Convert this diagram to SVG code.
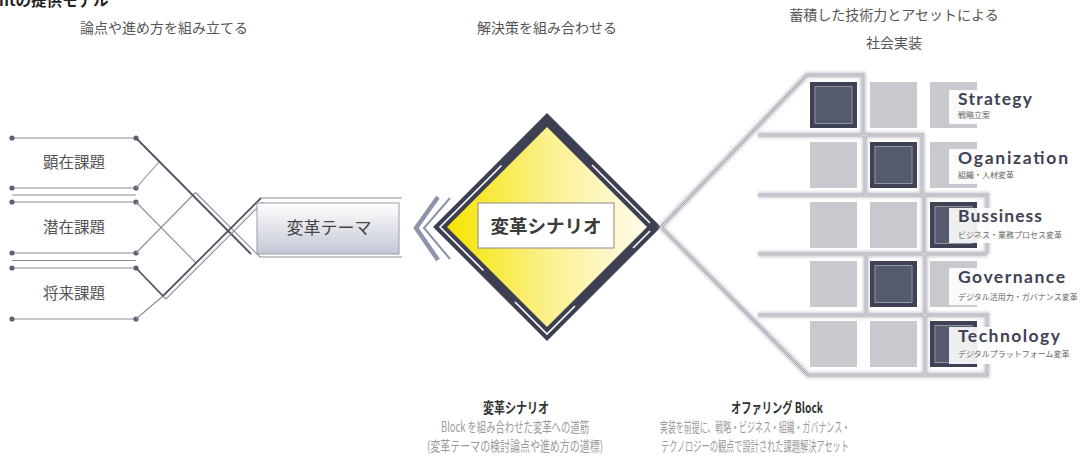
<svg xmlns="http://www.w3.org/2000/svg" width="1081" height="456" viewBox="0 0 1081 456">
<defs>
<style>
.jp{font-family:"Noto Sans CJK JP","Noto Sans",sans-serif}
.hd{font-size:14px;fill:#555;text-anchor:middle}
.lbl{font-size:15.5px;fill:#555;text-anchor:middle}
.ln{stroke:#8a8d99;stroke-width:1.1;fill:none}
.thk{stroke:#4f5363;stroke-width:1.8;fill:none}
.dot{fill:#5d6172}
.sq{fill:#c8c9ce}
.dk{fill:#3f4254}
.dki{fill:#555a6c;stroke:#9095a5;stroke-width:1}
.pan{fill:#fff;fill-opacity:.9}
.en{font-family:Lato,"Liberation Sans",sans-serif;font-weight:bold;font-size:17.5px;fill:#3f4254}
.sub{font-family:"Noto Sans CJK JP",sans-serif;font-size:8px;fill:#666}
.bt{font-size:14.5px;fill:#333;text-anchor:middle;font-weight:bold}
.bd{font-size:14px;fill:#9a9a9a;text-anchor:middle}
</style>
<linearGradient id="gBox" x1="0" y1="0" x2="0" y2="1">
<stop offset="0" stop-color="#ffffff"/>
<stop offset="1" stop-color="#c3c6d3"/>
</linearGradient>
<linearGradient id="gY" x1="0" y1="0" x2="1" y2="0">
<stop offset="0" stop-color="#f6e400"/>
<stop offset="0.5" stop-color="#fbf08c"/>
<stop offset="1" stop-color="#fffcec"/>
</linearGradient>
<filter id="blur" x="-5%" y="-5%" width="110%" height="110%">
<feGaussianBlur stdDeviation="1.6"/>
</filter>
</defs>
<rect width="1081" height="456" fill="#fff"/>

<g id="headers" class="jp">
<text x="-1" y="6" font-size="15.5" font-weight="bold" fill="#222">ntの提供モデル</text>
<text class="hd" x="164" y="33">論点や進め方を組み立てる</text>
<text class="hd" x="547" y="33">解決策を組み合わせる</text>
<text class="hd" x="894" y="20">蓄積した技術力とアセットによる</text>
<text class="hd" x="894" y="48">社会実装</text>
</g>

<g id="issues">
<g class="ln">
<line x1="12" y1="138" x2="136" y2="138"/>
<line x1="12" y1="188" x2="136" y2="188"/>
<line x1="12" y1="195" x2="136" y2="195"/>
<line x1="12" y1="202" x2="136" y2="202"/>
<line x1="12" y1="253" x2="136" y2="253"/>
<line x1="12" y1="260.5" x2="136" y2="260.5"/>
<line x1="12" y1="268" x2="136" y2="268"/>
<line x1="12" y1="319" x2="136" y2="319"/>
</g>
<g class="dot">
<circle cx="12" cy="138" r="2.6"/><circle cx="136" cy="138" r="2.6"/>
<circle cx="12" cy="188" r="2.6"/><circle cx="136" cy="188" r="2.6"/>
<circle cx="12" cy="202" r="2.6"/><circle cx="136" cy="202" r="2.6"/>
<circle cx="12" cy="253" r="2.6"/><circle cx="136" cy="253" r="2.6"/>
<circle cx="12" cy="268" r="2.6"/><circle cx="136" cy="268" r="2.6"/>
<circle cx="12" cy="319" r="2.6"/><circle cx="136" cy="319" r="2.6"/>
</g>
<g class="jp">
<text class="lbl" x="74" y="168">顕在課題</text>
<text class="lbl" x="74" y="233">潜在課題</text>
<text class="lbl" x="74" y="299">将来課題</text>
</g>
</g>

<g id="connectors">
<line class="ln" x1="136" y1="188" x2="159" y2="162"/>
<line class="ln" x1="136" y1="202" x2="196" y2="263"/>
<line class="ln" x1="136" y1="253" x2="195.5" y2="192.5"/>
<line class="ln" x1="136" y1="319" x2="163" y2="296"/>
<polyline class="thk" points="136,138 251,254"/>
<polyline class="ln" points="195.5,192.5 260,257 402,257"/>
<polyline class="thk" points="136,268 163,296 261,198"/>
<polyline class="ln" points="163,296 166,299 263,202"/>
<line class="ln" x1="261" y1="198" x2="402" y2="198"/>
</g>

<g id="theme">
<rect x="257" y="203" width="142" height="51" fill="url(#gBox)" stroke="#9a9caa" stroke-width="1"/>
<text class="jp" x="329" y="234" font-size="17" fill="#444" text-anchor="middle">変革テーマ</text>
</g>

<g id="chevrons" fill="none">
<polyline points="438,197 416,228 438,260" stroke="#8c93ab" stroke-width="4.5"/>
<polyline points="450,198 424,228 450,259" stroke="#8c93ab" stroke-width="2"/>
</g>

<g id="scenario">
<polygon points="547,113 661,227 547,341 433,227" fill="#3d4052"/>
<polygon points="547,127 647,227 547,327 447,227" fill="url(#gY)"/>
<g stroke="#fff" stroke-width="1.6" fill="none">
<polyline points="501.5,165.5 440,227 483.5,270.5"/>
<polyline points="515,302 547,334 575,306"/>
<polyline points="592,165 650,223"/>
<polyline points="633,248 650,231"/>
</g>
<rect x="478" y="203" width="136" height="45" fill="#fff" stroke="#8a8a8a" stroke-width="1"/>
<text class="jp" x="546" y="233" font-size="18.5" font-weight="bold" fill="#3a3a3a" text-anchor="middle">変革シナリオ</text>
</g>

<g id="frame" fill="none">
<path d="M661,227 L807,75 L863,75 L863,135 M758,135 L922,135 L922,195 M865,135 L865,195 M758,195 L987,195 L987,254 M924,195 L924,254 M758,254 L987,254 M866,254 L866,315 M925,254 L925,315 M758,315 L987,315 L987,375 L808,375 L661,227 M925,315 L925,375" stroke="#cfd0d6" stroke-width="6" filter="url(#blur)"/>
<path d="M661,227 L807,75 L863,75 L863,135 M758,135 L922,135 L922,195 M865,135 L865,195 M758,195 L987,195 L987,254 M924,195 L924,254 M758,254 L987,254 M866,254 L866,315 M925,254 L925,315 M758,315 L987,315 L987,375 L808,375 L661,227 M925,315 L925,375" stroke="#9ea0ab" stroke-width="2.4"/>
<path d="M661,227 L807,75 L863,75 L863,135 M758,135 L922,135 L922,195 M865,135 L865,195 M758,195 L987,195 L987,254 M924,195 L924,254 M758,254 L987,254 M866,254 L866,315 M925,254 L925,315 M758,315 L987,315 L987,375 L808,375 L661,227 M925,315 L925,375" stroke="#fff" stroke-width="0.8"/>
</g>

<g id="block-strategy">
<rect class="dk" x="810" y="82" width="47" height="46"/><rect class="dki" x="815" y="86.5" width="37" height="37"/>
<rect class="sq" x="870" y="82" width="47" height="46"/>
<rect class="sq" x="930" y="82" width="47" height="46"/>
<rect class="pan" x="949" y="90" width="132" height="34"/>
<text class="en" x="958" y="105" textLength="74" lengthAdjust="spacing">Strategy</text>
<text class="sub" x="958" y="118">戦略立案</text>
</g>

<g id="block-organization">
<rect class="sq" x="810" y="142" width="47" height="46"/>
<rect class="dk" x="870" y="142" width="47" height="46"/><rect class="dki" x="875" y="146.5" width="37" height="37"/>
<rect class="sq" x="930" y="142" width="47" height="46"/>
<rect class="pan" x="949" y="149" width="132" height="35"/>
<text class="en" x="958" y="164" textLength="110" lengthAdjust="spacing">Oganization</text>
<text class="sub" x="958" y="178">組織・人材変革</text>
</g>

<g id="block-business">
<rect class="sq" x="810" y="202" width="47" height="46"/>
<rect class="sq" x="870" y="202" width="47" height="46"/>
<rect class="dk" x="930" y="202" width="47" height="46"/><rect class="dki" x="935" y="206.5" width="37" height="37"/>
<rect class="pan" x="949" y="208" width="132" height="35"/>
<text class="en" x="958" y="222" textLength="84" lengthAdjust="spacing">Bussiness</text>
<text class="sub" x="958" y="238">ビジネス・業務プロセス変革</text>
</g>

<g id="block-governance">
<rect class="sq" x="810" y="261" width="47" height="46"/>
<rect class="dk" x="870" y="261" width="47" height="46"/><rect class="dki" x="875" y="265.5" width="37" height="37"/>
<rect class="sq" x="930" y="261" width="47" height="46"/>
<rect class="pan" x="949" y="268" width="132" height="37"/>
<text class="en" x="958" y="283" textLength="107" lengthAdjust="spacing">Governance</text>
<text class="sub" x="958" y="300">デジタル活用力・ガバナンス変革</text>
</g>

<g id="block-technology">
<rect class="sq" x="810" y="321" width="47" height="46"/>
<rect class="sq" x="870" y="321" width="47" height="46"/>
<rect class="dk" x="930" y="321" width="47" height="46"/><rect class="dki" x="935" y="325.5" width="37" height="37"/>
<rect class="pan" x="949" y="327" width="132" height="37"/>
<text class="en" x="958" y="342" textLength="102" lengthAdjust="spacing">Technology</text>
<text class="sub" x="958" y="357">デジタルプラットフォーム変革</text>
</g>

<g id="captions" class="jp">
<text class="bt" x="516" y="413" textLength="66" lengthAdjust="spacingAndGlyphs">変革シナリオ</text>
<text class="bd" x="515" y="432" textLength="148" lengthAdjust="spacingAndGlyphs">Block を組み合わせた変革への道筋</text>
<text class="bd" x="515" y="451" textLength="176" lengthAdjust="spacingAndGlyphs">(変革テーマの検討論点や進め方の道標)</text>
<text class="bt" x="777" y="413" textLength="92" lengthAdjust="spacingAndGlyphs">オファリング Block</text>
<text class="bd" x="755" y="432" textLength="190" lengthAdjust="spacingAndGlyphs">実装を前提に、戦略・ビジネス・組織・ガバナンス・</text>
<text class="bd" x="755" y="451" textLength="188" lengthAdjust="spacingAndGlyphs">テクノロジーの観点で設計された課題解決アセット</text>
</g>
</svg>
